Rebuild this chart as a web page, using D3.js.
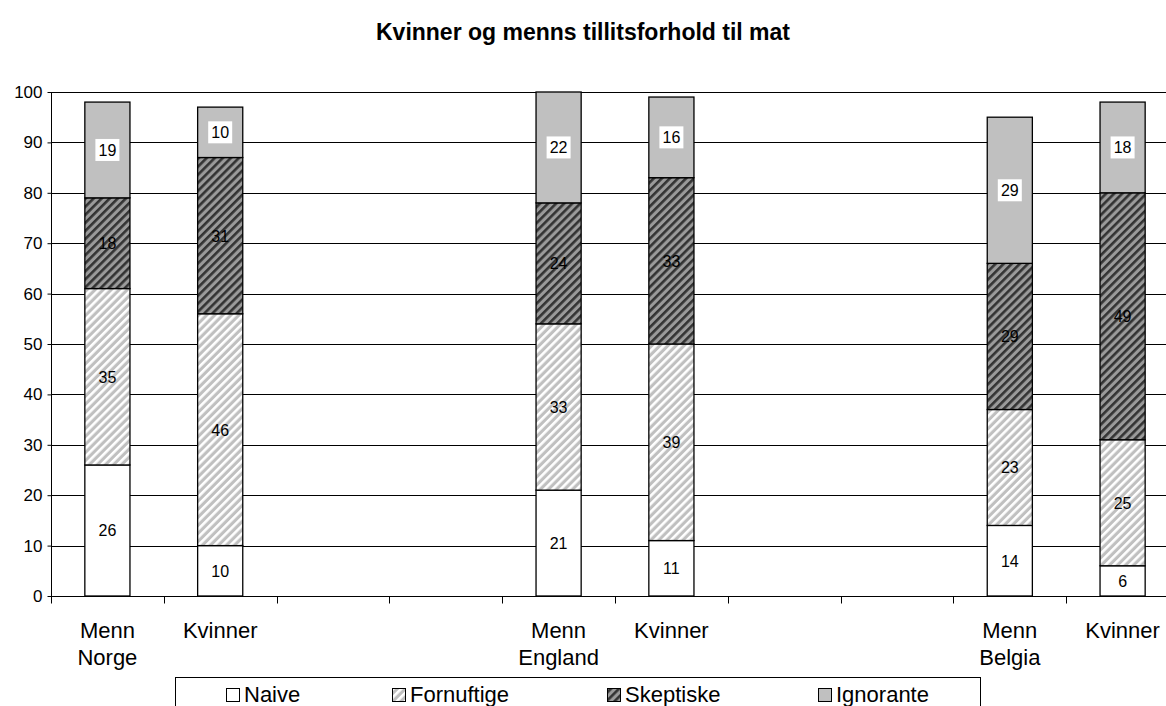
<!DOCTYPE html>
<html><head><meta charset="utf-8">
<script src="https://cdn.jsdelivr.net/npm/d3@7"></script>
<style>body{margin:0;background:#fff}svg{display:block;font-family:"Liberation Sans",Arial,sans-serif}</style>
</head><body>
<svg id="c" width="1166" height="706"></svg>
<script>
const slots = ["s0","s1","s2","s3","s4","s5","s6","s7","s8","s9"];
const slotLabels = [["Menn","Norge"],["Kvinner"],[],[],["Menn","England"],["Kvinner"],[],[],["Menn","Belgia"],["Kvinner"]];
const seriesNames = ["Naive","Fornuftige","Skeptiske","Ignorante"];
const naive      = [26,10,null,null,21,11,null,null,14,6];
const fornuftige = [35,46,null,null,33,39,null,null,23,25];
const skeptiske  = [18,31,null,null,24,33,null,null,29,49];
const ignorante  = [19,10,null,null,22,16,null,null,29,18];
const yTicks = [0,10,20,30,40,50,60,70,80,90,100];
const title = "Kvinner og menns tillitsforhold til mat";

const svg = d3.select("#c");
const defs = svg.append("defs");
function stripe(id, bg, fg, sw){
  const p = defs.append("pattern").attr("id",id).attr("patternUnits","userSpaceOnUse")
    .attr("width",5.7).attr("height",5.7).attr("patternTransform","rotate(45)");
  p.append("rect").attr("width",5.7).attr("height",5.7).attr("fill",bg);
  p.append("rect").attr("width",sw).attr("height",5.7).attr("fill",fg);
}
stripe("pF","#c0c0c0","#ffffff",2.6);
stripe("pS","#9a9a9a","#333333",2.6);
const fills = ["#ffffff","url(#pF)","url(#pS)","#c0c0c0"];

const x = d3.scaleBand().domain(slots).range([51, 51+10*112.8]).paddingInner(0.6).paddingOuter(0.3);
const y = d3.scaleLinear().domain([0,100]).range([596,92]);

svg.append("text").attr("x",583).attr("y",40).attr("text-anchor","middle")
  .attr("font-weight","bold").attr("font-size",23).text(title);

// gridlines
svg.append("g").selectAll("line").data(yTicks.filter(d=>d>0)).join("line")
  .attr("x1",51).attr("x2",1166).attr("y1",d=>Math.round(y(d))+0.5).attr("y2",d=>Math.round(y(d))+0.5)
  .attr("stroke","#000").attr("stroke-width",1);

// y axis
const ya = svg.append("g").attr("transform","translate(51.5,0)")
  .call(d3.axisLeft(y).tickValues(yTicks).tickSize(4).tickPadding(5));
ya.select(".domain").attr("d",`M0,${y(100)}V${y(0)}`).attr("stroke","#000");
ya.selectAll(".tick line").attr("stroke","#000");
ya.selectAll("text").attr("font-size",17).attr("fill","#000").attr("font-family","Liberation Sans, Arial, sans-serif");

// x axis
const xg = svg.append("g").attr("transform",`translate(0,${Math.round(y(0))+0.5})`);
xg.append("line").attr("x1",51).attr("x2",1166).attr("stroke","#000");
const bounds = d3.range(0,11).map(i=>51 + i*x.step());
xg.selectAll(".tk").data(bounds).join("line").attr("class","tk")
  .attr("x1",d=>Math.round(d)+0.5).attr("x2",d=>Math.round(d)+0.5).attr("y1",0).attr("y2",7).attr("stroke","#000");
slots.forEach((s,i)=>{
  const cx = x(s)+x.bandwidth()/2;
  slotLabels[i].forEach((t,j)=>{
    xg.append("text").attr("x",cx).attr("y",41+j*27).attr("text-anchor","middle")
      .attr("font-size",22).attr("fill","#000").text(t);
  });
});

// stacks
const rows = slots.map((s,i)=>({slot:s, Naive:naive[i], Fornuftige:fornuftige[i], Skeptiske:skeptiske[i], Ignorante:ignorante[i]}))
  .filter(r=>r.Naive!=null);
const stack = d3.stack().keys(seriesNames)(rows);
const bars = svg.append("g");
stack.forEach((layer,k)=>{
  layer.forEach(d=>{
    const x0 = x(d.data.slot), w = x.bandwidth();
    bars.append("rect").attr("x",x0).attr("y",y(d[1])).attr("width",w).attr("height",y(d[0])-y(d[1]))
      .attr("fill",fills[k]).attr("stroke","#000").attr("stroke-width",1.3);
  });
});
stack.forEach((layer,k)=>{
  layer.forEach(d=>{
    const cx = x(d.data.slot)+x.bandwidth()/2, cy = (y(d[0])+y(d[1]))/2;
    const v = d.data[seriesNames[k]];
    if(k===3){
      bars.append("rect").attr("x",cx-12).attr("y",cy-11).attr("width",24).attr("height",22).attr("fill","#fff");
    }
    bars.append("text").attr("x",cx).attr("y",cy+6).attr("text-anchor","middle").attr("font-size",16)
      .attr("fill","#000").text(v);
  });
});

// legend
const lg = svg.append("g");
lg.append("rect").attr("x",175.5).attr("y",677.5).attr("width",805).attr("height",60)
  .attr("fill","#fff").attr("stroke","#000").attr("stroke-width",1);
const lx = [226,392,607,818];
seriesNames.forEach((n,i)=>{
  lg.append("rect").attr("x",lx[i]+0.5).attr("y",688.5).attr("width",13).attr("height",13)
    .attr("fill",fills[i]).attr("stroke","#000");
  lg.append("text").attr("x",lx[i]+18).attr("y",702).attr("font-size",22).attr("fill","#000").text(n);
});
</script>
</body></html>
